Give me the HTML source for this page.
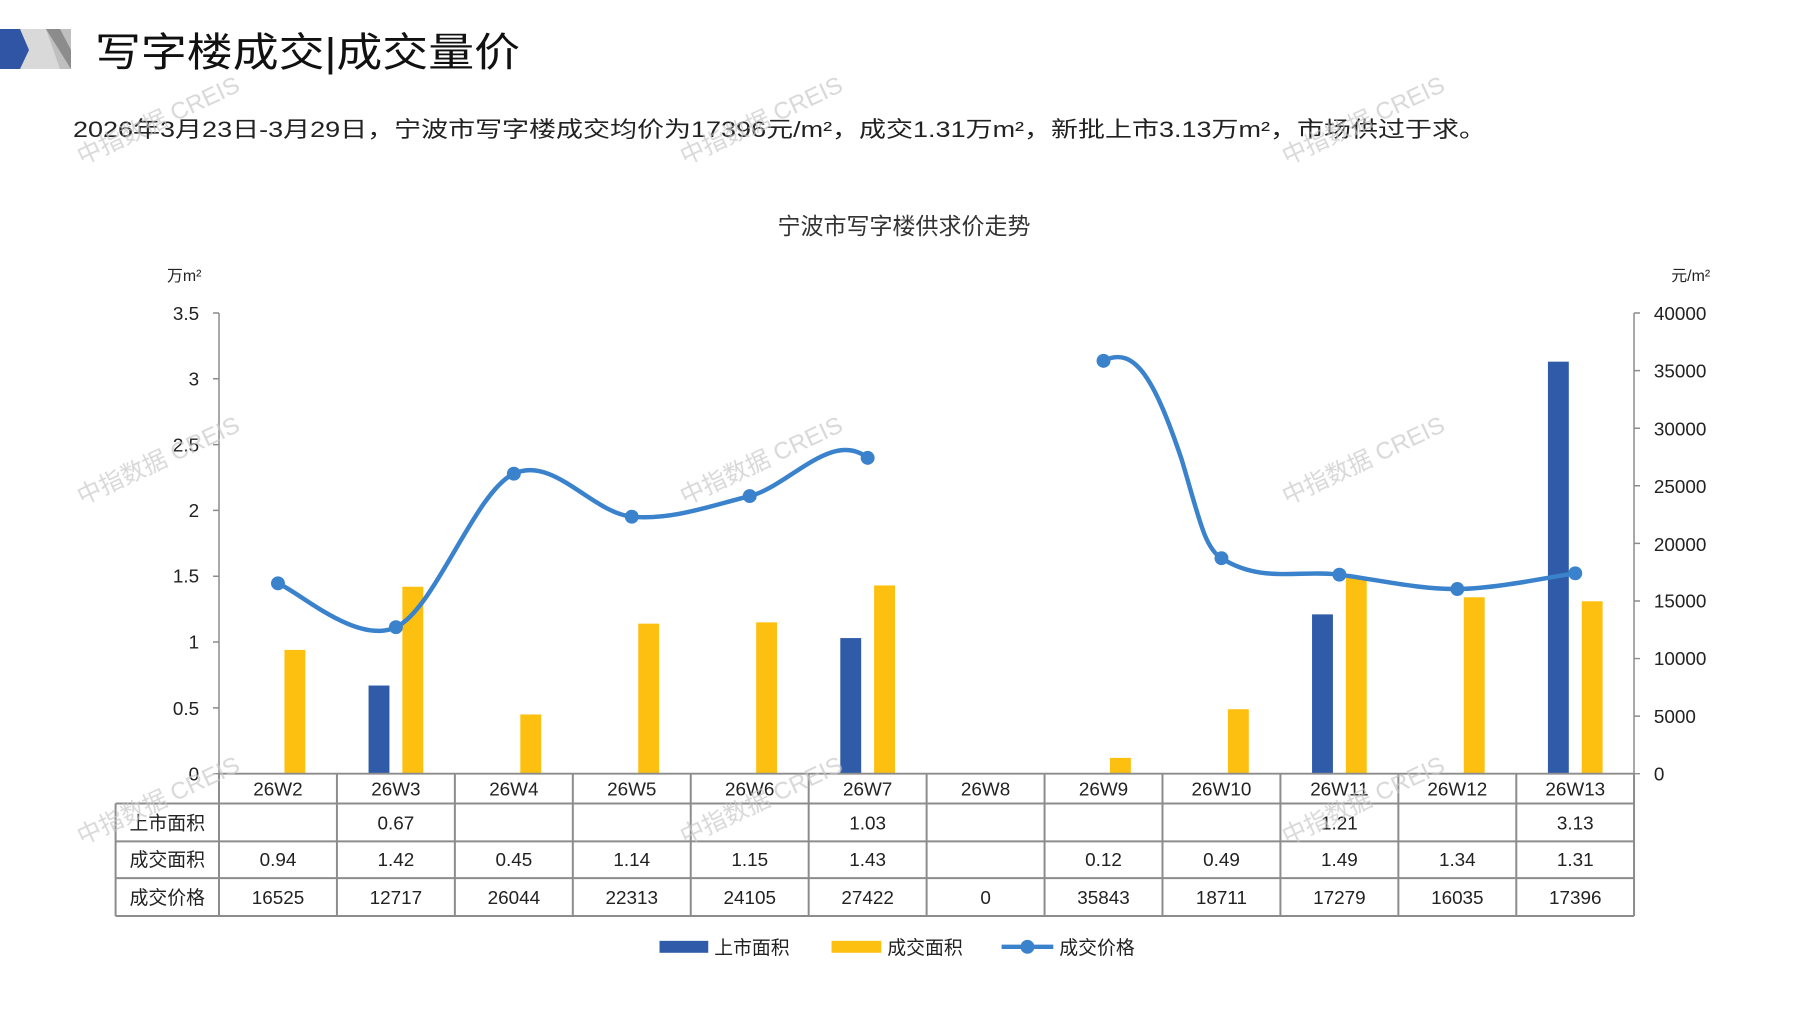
<!DOCTYPE html>
<html><head><meta charset="utf-8"><style>
html,body{margin:0;padding:0;background:#fff;}
svg{display:block;}
text{font-family:"Liberation Sans","Noto Sans CJK SC",sans-serif;}
</style></head><body>
<svg width="1797" height="1010" viewBox="0 0 1797 1010" xmlns="http://www.w3.org/2000/svg">
<!-- header -->
<polygon points="0,29 60,29 71,50 71,69 0,69" fill="#d9d9d9"/>
<polygon points="46,29 71,29 71,69 60,69" fill="#bfbfbf"/>
<polygon points="0,29 20,29 29,50 20,69 0,69" fill="#2f55a4"/>
<polygon points="46,29 60,29 71,50 71,69" fill="#8c8c8c"/>
<text x="95" y="66" font-size="40" fill="#111" textLength="425" lengthAdjust="spacingAndGlyphs">写字楼成交|成交量价</text>
<text x="73" y="137" font-size="22" fill="#222" textLength="1413" lengthAdjust="spacingAndGlyphs">2026年3月23日-3月29日，宁波市写字楼成交均价为17396元/m²，成交1.31万m²，新批上市3.13万m²，市场供过于求。</text>
<text x="904" y="234" font-size="23" fill="#333" text-anchor="middle">宁波市写字楼供求价走势</text>
<g transform="translate(219,313) scale(0.9944,0.995) translate(-219,-313)">
<!-- units -->
<text x="184" y="281" font-size="16" fill="#222" text-anchor="middle">万m²</text>
<text x="1699" y="281" font-size="16" fill="#222" text-anchor="middle">元/m²</text>
<!-- axes -->
<g stroke="#8c8c8c" stroke-width="1.5" fill="none">
<line x1="219" y1="313" x2="219" y2="776"/>
<line x1="1642" y1="313" x2="1642" y2="776"/>
<path d="M213 313H219M213 379.1H219M213 445.3H219M213 511.4H219M213 577.6H219M213 643.7H219M213 709.9H219M213 776H219"/>
<path d="M1642 313H1648M1642 370.9H1648M1642 428.8H1648M1642 486.6H1648M1642 544.5H1648M1642 602.4H1648M1642 660.3H1648M1642 718.1H1648M1642 776H1648"/>
</g>
<g font-size="19" fill="#222" text-anchor="end">
<text x="199" y="320">3.5</text><text x="199" y="386">3</text><text x="199" y="452">2.5</text><text x="199" y="518">2</text><text x="199" y="584">1.5</text><text x="199" y="650">1</text><text x="199" y="717">0.5</text><text x="199" y="783">0</text>
</g>
<g font-size="19" fill="#222">
<text x="1662" y="320">40000</text><text x="1662" y="378">35000</text><text x="1662" y="436">30000</text><text x="1662" y="494">25000</text><text x="1662" y="552">20000</text><text x="1662" y="609">15000</text><text x="1662" y="667">10000</text><text x="1662" y="725">5000</text><text x="1662" y="783">0</text>
</g>
<!-- bars -->
<g fill="#fdc010">
<rect x="284.8" y="651.6" width="21" height="124.4"/>
<rect x="403.4" y="588.1" width="21" height="187.9"/>
<rect x="522.0" y="716.5" width="21" height="59.5"/>
<rect x="640.6" y="625.2" width="21" height="150.8"/>
<rect x="759.2" y="623.9" width="21" height="152.1"/>
<rect x="877.8" y="586.8" width="21" height="189.2"/>
<rect x="1115.0" y="760.1" width="21" height="15.9"/>
<rect x="1233.6" y="711.2" width="21" height="64.8"/>
<rect x="1352.2" y="578.9" width="21" height="197.1"/>
<rect x="1470.8" y="598.7" width="21" height="177.3"/>
<rect x="1589.4" y="602.7" width="21" height="173.3"/>
</g>
<g fill="#2f5ba8">
<rect x="369.4" y="687.4" width="21" height="88.6"/>
<rect x="843.8" y="639.7" width="21" height="136.3"/>
<rect x="1318.2" y="615.9" width="21" height="160.1"/>
<rect x="1555.4" y="361.9" width="21" height="414.1"/>
</g>
<!-- line -->
<g stroke="#3a82cc" stroke-width="4.5" fill="none" stroke-linecap="round">
<path d="M278.3,584.7 C298.1,592.05 357.4,647.17 396.9,628.8 C436.4,610.43 476.0,493.02 515.5,474.5 C555.0,455.98 594.6,513.95 634.1,517.7 C673.6,521.45 713.2,506.85 752.7,497.0 C792.2,487.15 835,430 871.3,458.6"/>
<path d="M1108.5,361.1 C1140,345 1160,380 1187,460 C1205,520 1210,549 1227.1,559.4 C1266.6,585 1306.2,570.83 1345.7,576.0 C1385.2,581.17 1424.8,590.63 1464.3,590.4 C1503.8,590.17 1563.1,577.23 1582.9,574.6"/>
</g>
<g fill="#3a82cc">
<circle cx="278.3" cy="584.7" r="7"/><circle cx="396.9" cy="628.8" r="7"/><circle cx="515.5" cy="474.5" r="7"/><circle cx="634.1" cy="517.7" r="7"/><circle cx="752.7" cy="497.0" r="7"/><circle cx="871.3" cy="458.6" r="7"/>
<circle cx="1108.5" cy="361.1" r="7"/><circle cx="1227.1" cy="559.4" r="7"/><circle cx="1345.7" cy="576.0" r="7"/><circle cx="1464.3" cy="590.4" r="7"/><circle cx="1582.9" cy="574.6" r="7"/>
</g>
<!-- table -->
<g stroke="#8c8c8c" stroke-width="2" fill="none">
<path d="M219 776H1642M115 806H1642M115 844H1642M115 881H1642M115 919H1642"/>
<path d="M115 806V919M219 776V919M337.6 776V919M456.2 776V919M574.8 776V919M693.4 776V919M812 776V919M930.6 776V919M1049.2 776V919M1167.8 776V919M1286.4 776V919M1405 776V919M1523.6 776V919M1642 776V919"/>
</g>
<g font-size="19" fill="#222" text-anchor="middle">
<text x="278.3" y="798">26W2</text><text x="396.9" y="798">26W3</text><text x="515.5" y="798">26W4</text><text x="634.1" y="798">26W5</text><text x="752.7" y="798">26W6</text><text x="871.3" y="798">26W7</text><text x="989.9" y="798">26W8</text><text x="1108.5" y="798">26W9</text><text x="1227.1" y="798">26W10</text><text x="1345.7" y="798">26W11</text><text x="1464.3" y="798">26W12</text><text x="1582.9" y="798">26W13</text>
<text x="167" y="832" font-size="19">上市面积</text>
<text x="396.9" y="832">0.67</text><text x="871.3" y="832">1.03</text><text x="1345.7" y="832">1.21</text><text x="1582.9" y="832">3.13</text>
<text x="167" y="869">成交面积</text>
<text x="278.3" y="869">0.94</text><text x="396.9" y="869">1.42</text><text x="515.5" y="869">0.45</text><text x="634.1" y="869">1.14</text><text x="752.7" y="869">1.15</text><text x="871.3" y="869">1.43</text><text x="1108.5" y="869">0.12</text><text x="1227.1" y="869">0.49</text><text x="1345.7" y="869">1.49</text><text x="1464.3" y="869">1.34</text><text x="1582.9" y="869">1.31</text>
<text x="167" y="907">成交价格</text>
<text x="278.3" y="907">16525</text><text x="396.9" y="907">12717</text><text x="515.5" y="907">26044</text><text x="634.1" y="907">22313</text><text x="752.7" y="907">24105</text><text x="871.3" y="907">27422</text><text x="989.9" y="907">0</text><text x="1108.5" y="907">35843</text><text x="1227.1" y="907">18711</text><text x="1345.7" y="907">17279</text><text x="1464.3" y="907">16035</text><text x="1582.9" y="907">17396</text>
</g>
<!-- legend -->
<rect x="662" y="944" width="49" height="12" fill="#2f5ba8"/>
<text x="717" y="957" font-size="19" fill="#222">上市面积</text>
<rect x="835" y="944" width="50" height="12" fill="#fdc010"/>
<text x="891" y="957" font-size="19" fill="#222">成交面积</text>
<line x1="1006" y1="950" x2="1058" y2="950" stroke="#3a82cc" stroke-width="4.5"/>
<circle cx="1032" cy="950" r="7" fill="#3a82cc"/>
<text x="1064" y="957" font-size="19" fill="#222">成交价格</text>
</g>
<!-- watermarks -->
<g font-size="24" fill="#c8c8c8" opacity="0.7">
<text transform="translate(82,165) rotate(-25)">中指数据 CREIS</text>
<text transform="translate(685,165) rotate(-25)">中指数据 CREIS</text>
<text transform="translate(1287,165) rotate(-25)">中指数据 CREIS</text>
<text transform="translate(82,505) rotate(-25)">中指数据 CREIS</text>
<text transform="translate(685,505) rotate(-25)">中指数据 CREIS</text>
<text transform="translate(1287,505) rotate(-25)">中指数据 CREIS</text>
<text transform="translate(82,845) rotate(-25)">中指数据 CREIS</text>
<text transform="translate(685,845) rotate(-25)">中指数据 CREIS</text>
<text transform="translate(1287,845) rotate(-25)">中指数据 CREIS</text>
</g>
</svg>
</body></html>
